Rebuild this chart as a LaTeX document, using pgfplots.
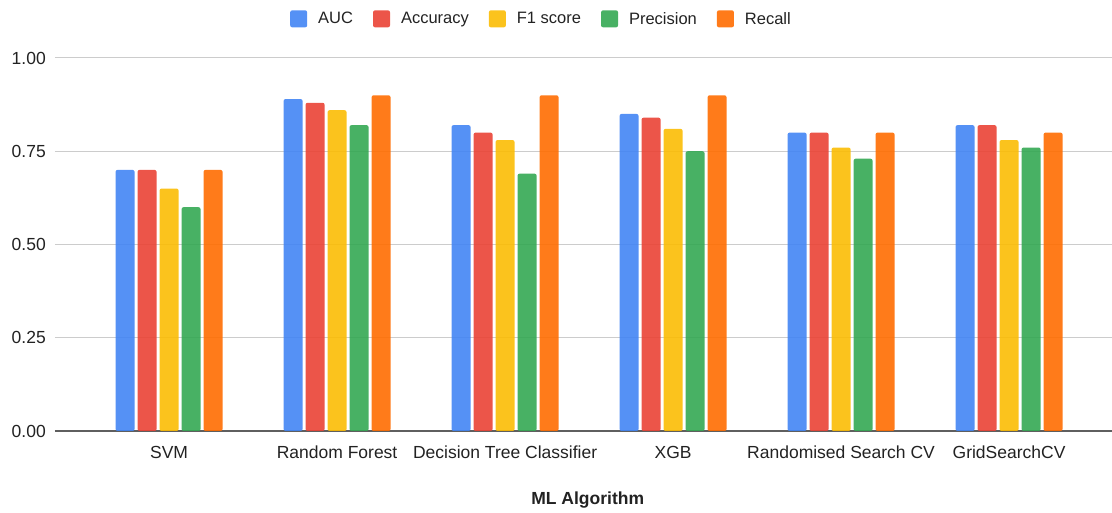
\documentclass[border=0pt]{standalone}
\usepackage{pgfplots}
\pgfplotsset{compat=1.18}
\usepackage{fontspec}
\setmainfont{Liberation Sans}

\definecolor{cAUC}{HTML}{4285F4}
\definecolor{cAcc}{HTML}{EA4335}
\definecolor{cF1}{HTML}{FBBC04}
\definecolor{cPrec}{HTML}{34A853}
\definecolor{cRec}{HTML}{FF6D01}
\definecolor{gridc}{HTML}{CCCCCC}
\definecolor{axisc}{HTML}{5F5F5F}
\definecolor{txt}{HTML}{222222}

\begin{document}
\begin{tikzpicture}
\useasboundingbox (0pt,0pt) rectangle (1112pt,513pt);
\begin{axis}[
  at={(55pt,82pt)}, anchor=south west,
  scale only axis,
  width=1057pt, height=373pt,
  ybar=3pt, bar width=19pt,
  xmin=-0.679, xmax=5.613,
  ymin=0, ymax=1,
  xtick={0,1,2,3,4,5},
  xticklabels={SVM, Random Forest, Decision Tree Classifier, XGB, Randomised Search CV, GridSearchCV},
  ytick={0,0.25,0.5,0.75,1},
  /pgf/number format/assume math mode=true,
  yticklabel={\pgfmathprintnumber[fixed,fixed zerofill,precision=2]{\tick}},
  major tick length=0pt,
  axis x line*=bottom,
  axis y line*=left,
  y axis line style={draw=none},
  x axis line style={draw=axisc, line width=1.5pt},
  ymajorgrids,
  major grid style={draw=gridc, line width=1pt},
  ticklabel style={font=\fontsize{17.5}{21}\selectfont, text=txt},
  xticklabel style={anchor=base, inner sep=0pt, yshift=-27.5pt},
  yticklabel style={anchor=east, inner sep=0pt, xshift=-9pt},
  xlabel={\textbf{ML Algorithm}},
  xlabel style={at={(axis description cs:0.504,-0.1850)}, anchor=center,
                font=\fontsize{17.5}{21}\selectfont, text=txt},
  every axis plot/.append style={draw=none, fill opacity=0.9, rounded corners=2pt},
  legend columns=5,
  legend style={at={(axis description cs:0.2223,1.105)}, anchor=west,
                draw=none, fill=none, inner sep=0pt,
                font=\fontsize{16.5}{19}\selectfont, text=txt,
                nodes={inner sep=0pt},
                /tikz/every odd column/.append style={column sep=11pt},
                /tikz/every even column/.append style={column sep=20pt}},
  legend image code/.code={\fill[#1] (0pt,-8.5pt) rectangle (17pt,8.5pt);},
]
% AUC
\addplot[fill=cAUC] coordinates {(0,0.70) (1,0.89) (2,0.82) (3,0.85) (4,0.80) (5,0.82)};
% Accuracy
\addplot[fill=cAcc] coordinates {(0,0.70) (1,0.88) (2,0.80) (3,0.84) (4,0.80) (5,0.82)};
% F1 score
\addplot[fill=cF1] coordinates {(0,0.65) (1,0.86) (2,0.78) (3,0.81) (4,0.76) (5,0.78)};
% Precision
\addplot[fill=cPrec] coordinates {(0,0.60) (1,0.82) (2,0.69) (3,0.75) (4,0.73) (5,0.76)};
% Recall
\addplot[fill=cRec] coordinates {(0,0.70) (1,0.90) (2,0.90) (3,0.90) (4,0.80) (5,0.80)};
\legend{AUC, Accuracy, F1 score, Precision, Recall}
\end{axis}
\end{tikzpicture}
\end{document}
